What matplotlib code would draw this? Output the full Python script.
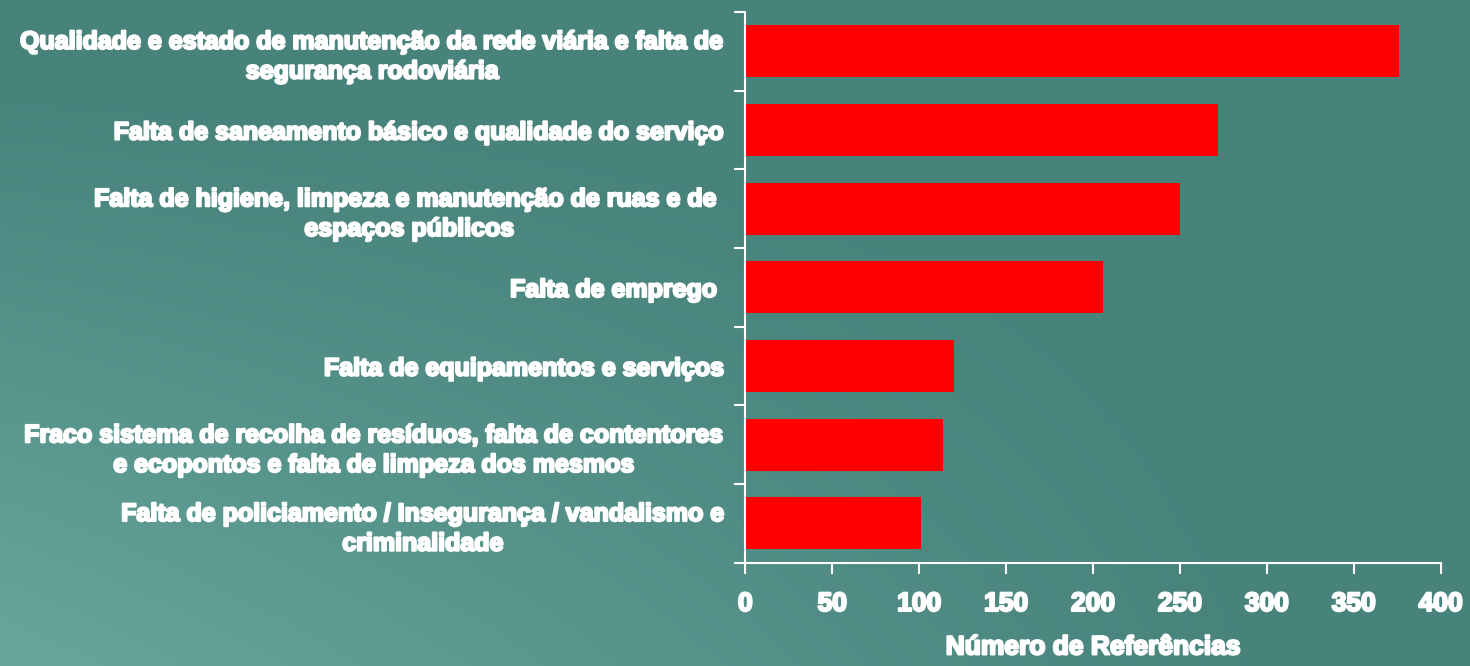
import numpy as np
import matplotlib
matplotlib.use("Agg")
import matplotlib.pyplot as plt
import matplotlib.patheffects as pe

plt.rcParams['font.family'] = ['Liberation Sans', 'DejaVu Sans']

categorias = [
    "Qualidade e estado de manutenção da rede viária e falta de\nsegurança rodoviária",
    "Falta de saneamento básico e qualidade do serviço",
    "Falta de higiene, limpeza e manutenção de ruas e de \nespaços públicos",
    "Falta de emprego ",
    "Falta de equipamentos e serviços",
    "Fraco sistema de recolha de resíduos, falta de contentores\ne ecopontos e falta de limpeza dos mesmos",
    "Falta de policiamento / Insegurança / vandalismo e\ncriminalidade",
]
referencias = [376, 272, 250, 206, 120, 114, 101]
x_ticks = [0, 50, 100, 150, 200, 250, 300, 350, 400]
x_titulo = "Número de Referências"

negrito = [pe.withStroke(linewidth=1.6, foreground='white')]

fig = plt.figure(figsize=(14.7, 6.66), dpi=100)
fig.patch.set_facecolor('#4b877f')

# fundo com gradiente suave (mais claro em baixo à esquerda)
bg = fig.add_axes([0, 0, 1, 1], zorder=0)
yy, xx = np.mgrid[0:1:200j, 0:1:400j]
grad = np.clip(1.2 * yy * (1 - xx) - 0.15, 0, 1)
bg.imshow(grad, cmap=matplotlib.colors.LinearSegmentedColormap.from_list(
    'fundo', ['#47827b', '#66a59c']), aspect='auto', extent=[0, 1, 0, 1])
bg.axis('off')

ax = fig.add_axes([0.507, 0.155, 0.473, 0.827], zorder=1)
ax.patch.set_alpha(0)

pos = np.arange(len(categorias))
ax.barh(pos, referencias, height=0.66, color='#ff0000', edgecolor='none')
ax.set_ylim(len(categorias) - 0.5, -0.5)
ax.set_xlim(0, 400)

ax.set_yticks(pos)
ax.set_yticklabels(categorias, fontsize=18, fontweight='bold', color='white',
                   multialignment='center', linespacing=1.3)
ax.set_yticks(np.arange(-0.5, len(categorias), 1), minor=True)
ax.tick_params(axis='y', which='major', length=0, pad=15)
ax.tick_params(axis='y', which='minor', length=8, width=1.5, color='white', direction='out')

ax.set_xticks(x_ticks)
ax.set_xticklabels([str(v) for v in x_ticks], fontsize=19, fontweight='bold', color='white')
ax.tick_params(axis='x', length=8, width=1.5, color='white', direction='out', pad=13)
ax.set_xlabel(x_titulo, fontsize=19, fontweight='bold', color='white', labelpad=14)

for t in ax.get_yticklabels() + ax.get_xticklabels() + [ax.xaxis.label]:
    t.set_path_effects(negrito)

for s in ['top', 'right']:
    ax.spines[s].set_visible(False)
for s in ['left', 'bottom']:
    ax.spines[s].set_color('white')
    ax.spines[s].set_linewidth(1.5)

fig.savefig('out.png', dpi=100, facecolor=fig.get_facecolor())
